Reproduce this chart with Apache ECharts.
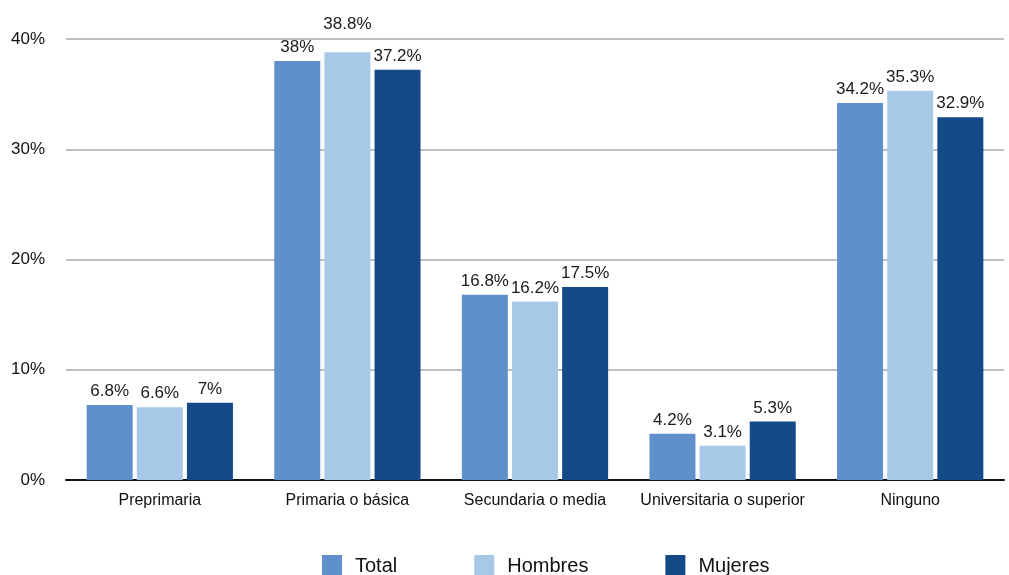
<!DOCTYPE html>
<html><head><meta charset="utf-8">
<script src="https://cdn.jsdelivr.net/npm/echarts@6/dist/echarts.min.js"></script>
<style>html,body{margin:0;padding:0;background:#fff}#c{width:1009px;height:575px}</style>
</head><body><div id="c"></div>
<script>
const categories = ['Preprimaria','Primaria o básica','Secundaria o media','Universitaria o superior','Ninguno'];
const total = [6.8, 38, 16.8, 4.2, 34.2];
const hombres = [6.6, 38.8, 16.2, 3.1, 35.3];
const mujeres = [7, 37.2, 17.5, 5.3, 32.9];
const yTicks = [0, 10, 20, 30, 40];

const font = 'Liberation Sans, Arial, sans-serif';
const pxPerUnit = (575 - 39 - 95) / 40;
// push a label above a gridline when it would sit on top of it
function item(v){
  const next = Math.ceil(v / 10) * 10;
  const gap = (next - v) * pxPerUnit;
  if (gap > 0 && gap < 20 && next <= 40) {
    return {value: v, label: {distance: Math.round(gap + 6)}};
  }
  return v;
}
const lbl = {show:true, position:'top', distance:5, color:'#1a1a1a', fontSize:17, fontFamily:font,
  formatter: p => p.value + '%'};
function s(name, data, color){
  return {name, type:'bar', data:data.map(item), barWidth:46, barGap:'9%', itemStyle:{color}, label:lbl};
}
const chart = echarts.init(document.getElementById('c'), null, {renderer:'canvas'});
chart.setOption({
  animation:false,
  grid:{left:66, right:5, top:39, bottom:95, containLabel:false},
  legend:{top:550, left:317, itemWidth:20, itemHeight:22, itemGap:77, icon:'rect',
    textStyle:{fontSize:20, fontFamily:font, color:'#111', padding:[0,0,0,8]},
    data:['Total','Hombres','Mujeres']},
  xAxis:{type:'category', data:categories,
    axisLine:{lineStyle:{color:'#111', width:2}}, axisTick:{show:false},
    axisLabel:{interval:0, fontSize:16, fontFamily:font, color:'#111', margin:13}},
  yAxis:{type:'value', min:yTicks[0], max:yTicks[yTicks.length-1], interval:10,
    axisLabel:{fontSize:17, fontFamily:font, color:'#111', formatter:'{value}%', margin:21},
    splitLine:{lineStyle:{color:'#aaa', width:1.5}}, axisLine:{show:false}, axisTick:{show:false}},
  series:[s('Total', total, '#6090cc'), s('Hombres', hombres, '#a7c9e7'), s('Mujeres', mujeres, '#144a88')]
});
</script></body></html>
